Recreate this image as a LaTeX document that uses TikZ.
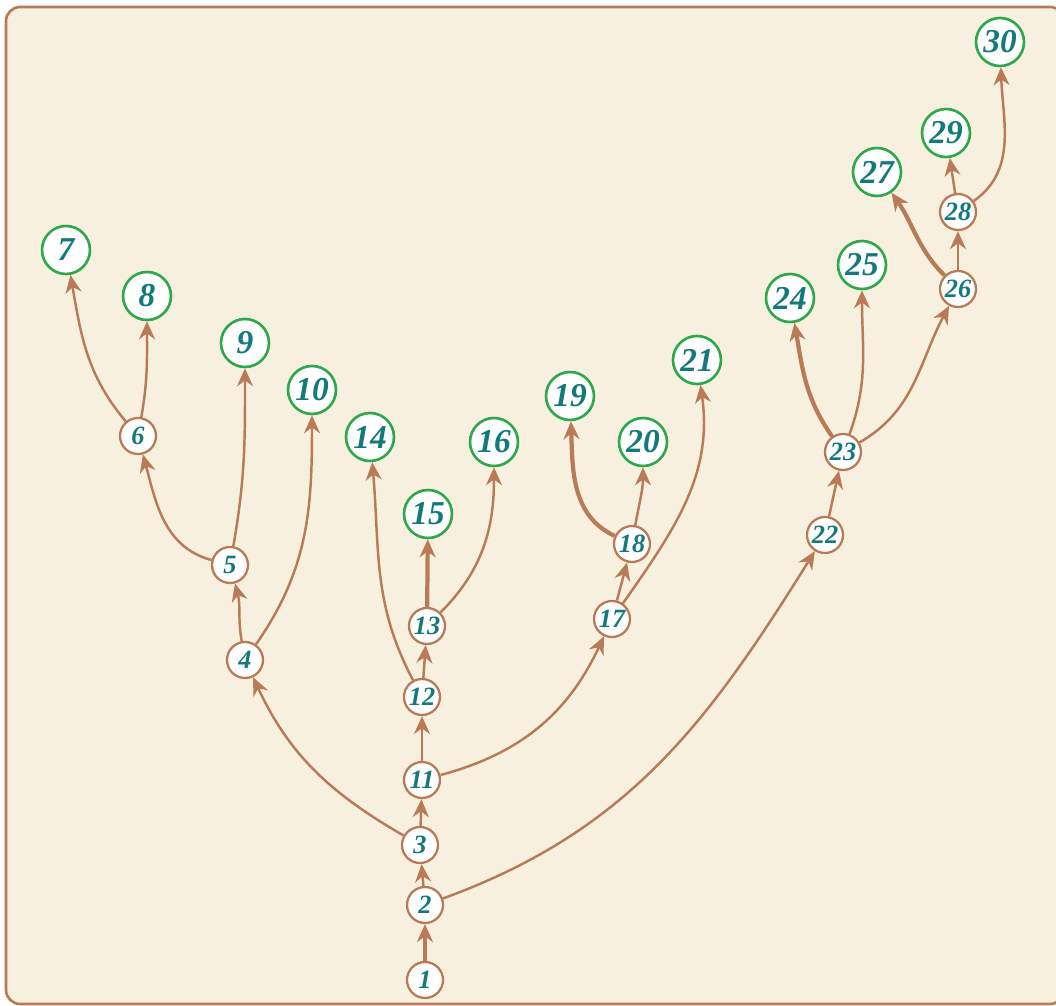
\documentclass[tikz,border=0pt]{standalone}
\usepackage{fontspec}
\setmainfont{Liberation Serif}
\usetikzlibrary{arrows.meta}
\definecolor{TreeBrown}{HTML}{B97A57}
\definecolor{TreeCream}{HTML}{F8F0DF}
\definecolor{TreeGreen}{HTML}{2EA84A}
\definecolor{TreeTeal}{HTML}{13797A}

\begin{document}
\begin{tikzpicture}[
x=0.02cm, y=-0.02cm,
every node/.style={font=\bfseries\itshape, text=TreeTeal},
inner/.style={circle, draw=TreeBrown, line width=1.3pt, fill=white, minimum size=0.72cm, inner sep=0pt, font=\fontsize{15}{15}\selectfont\bfseries\itshape},
leaf/.style={circle, draw=TreeGreen, line width=1.5pt, fill=white, minimum size=0.96cm, inner sep=0pt, font=\fontsize{19}{19}\selectfont\bfseries\itshape},
arrow/.style={-{Stealth[length=3.6mm, width=3.2mm]}, line width=1.4pt, color=TreeBrown},
thick arrow/.style={arrow, line width=2.4pt}
]
\useasboundingbox (0,0) rectangle (1056,1006);
\draw[TreeBrown, line width=1.5pt, fill=TreeCream, rounded corners=8pt] (6,7) rectangle (1064,1004);
% inner nodes
\node[inner] (n1) at (425,980) {1};
\node[inner] (n2) at (425,905) {2};
\node[inner] (n3) at (420,845) {3};
\node[inner] (n11) at (422,780) {11};
\node[inner] (n12) at (422,697) {12};
\node[inner] (n13) at (427,626) {13};
\node[inner] (n4) at (245,660) {4};
\node[inner] (n5) at (230,565) {5};
\node[inner] (n6) at (138,436) {6};
\node[inner] (n17) at (612,619) {17};
\node[inner] (n18) at (632,544) {18};
\node[inner] (n22) at (825,535) {22};
\node[inner] (n23) at (843,452) {23};
\node[inner] (n26) at (958,289) {26};
\node[inner] (n28) at (958,212) {28};
% leaves
\node[leaf] (n7) at (66,250) {7};
\node[leaf] (n8) at (147,296) {8};
\node[leaf] (n9) at (245,343) {9};
\node[leaf] (n10) at (312,390) {10};
\node[leaf] (n14) at (370,437) {14};
\node[leaf] (n15) at (428,514) {15};
\node[leaf] (n16) at (494,442) {16};
\node[leaf] (n19) at (570,396) {19};
\node[leaf] (n20) at (643,442) {20};
\node[leaf] (n21) at (697,360) {21};
\node[leaf] (n24) at (790,298) {24};
\node[leaf] (n25) at (862,265) {25};
\node[leaf] (n27) at (877,172) {27};
\node[leaf] (n29) at (946,133) {29};
\node[leaf] (n30) at (1000,42) {30};
% edges
\draw[thick arrow] (n1) -- (n2);
\draw[arrow] (n2) -- (n3);
\draw[arrow] (n2) to[out=20, in=-122] (n22);
\draw[arrow] (n3) -- (n11);
\draw[arrow] (n3) to[out=150, in=-65] (n4);
\draw[arrow] (n11) -- (n12);
\draw[arrow] (n11) to[out=15, in=-115] (n17);
\draw[arrow] (n12) -- (n13);
\draw[arrow] (n12) to[out=118, in=-85] (n14);
\draw[thick arrow] (n13) -- (n15);
\draw[arrow] (n13) to[out=45, in=-90] (n16);
\draw[arrow] (n4) to[out=100, in=-75] (n5);
\draw[arrow] (n4) to[out=55, in=-90] (n10);
\draw[arrow] (n5) to[out=165, in=-75] (n6);
\draw[arrow] (n5) to[out=80, in=-90] (n9);
\draw[arrow] (n6) to[out=130, in=-80] (n7);
\draw[arrow] (n6) to[out=80, in=-90] (n8);
\draw[arrow] (n17) -- (n18);
\draw[arrow] (n17) to[out=55, in=-82] (n21);
\draw[thick arrow] (n18) to[out=155, in=-88] (n19);
\draw[arrow] (n18) to[out=80, in=-90] (n20);
\draw[arrow] (n22) -- (n23);
\draw[thick arrow] (n23) to[out=125, in=-80] (n24);
\draw[arrow] (n23) to[out=70, in=-90] (n25);
\draw[arrow] (n23) to[out=30, in=-118] (n26);
\draw[thick arrow] (n26) to[out=135, in=-55] (n27);
\draw[arrow] (n26) -- (n28);
\draw[arrow] (n28) -- (n29);
\draw[arrow] (n28) to[out=35, in=-88] (n30);
\end{tikzpicture}
\end{document}
